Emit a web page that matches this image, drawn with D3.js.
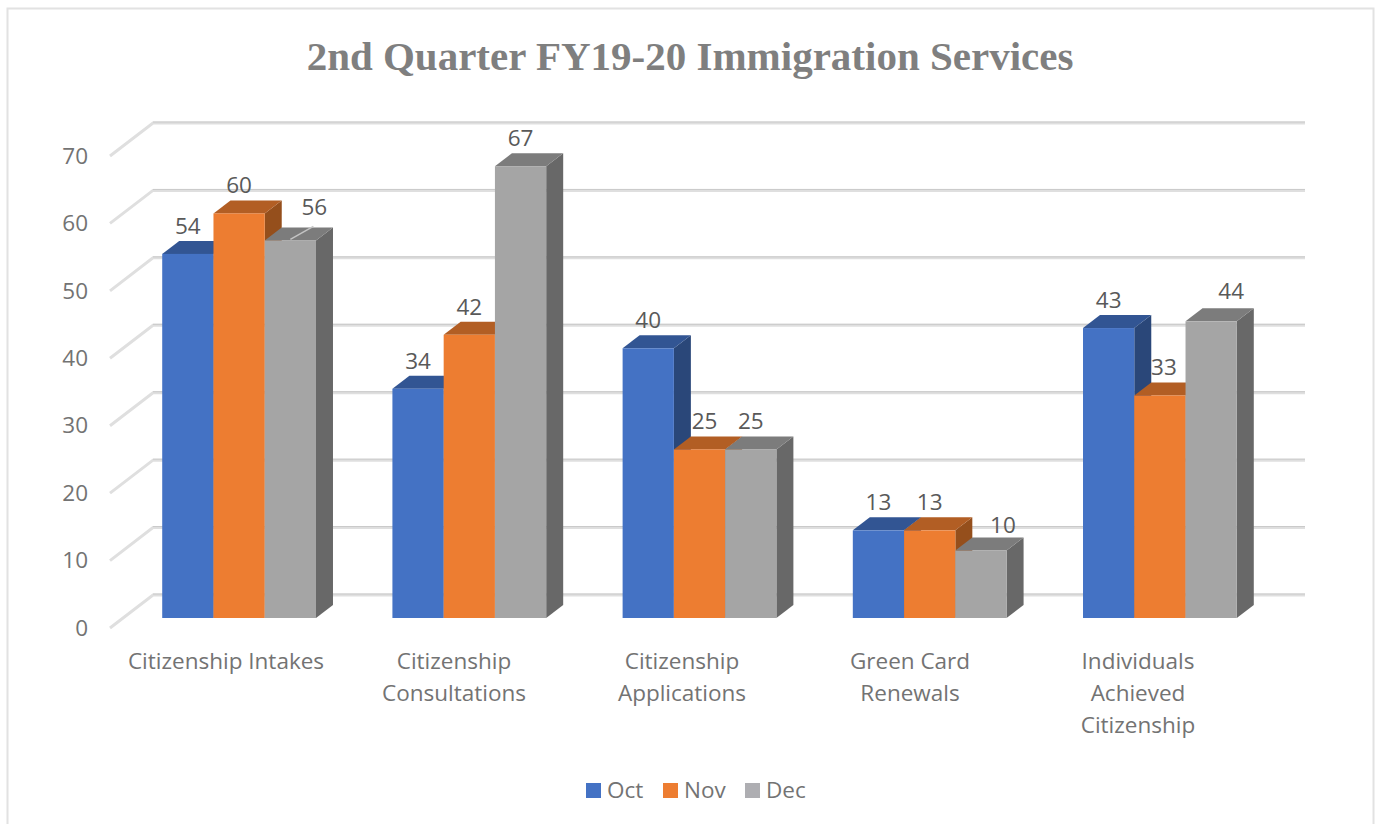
<!DOCTYPE html>
<html>
<head>
<meta charset="utf-8">
<title>2nd Quarter FY19-20 Immigration Services</title>
<script src="https://cdn.jsdelivr.net/npm/d3@7"></script>
<style>
	html, body { margin: 0; padding: 0; background: #fff; overflow: hidden; }
	svg { display: block; }
	.sans { font-family: "Open Sans", sans-serif; }
	.axis text { font-family: "Open Sans", sans-serif; font-size: 22.5px; fill: #737373; }
</style>
</head>
<body>
<svg id="chart" width="1376" height="824"></svg>
<script>
var chartTitle = "2nd Quarter FY19-20 Immigration Services";
var categories = [
	["Citizenship Intakes"],
	["Citizenship", "Consultations"],
	["Citizenship", "Applications"],
	["Green Card", "Renewals"],
	["Individuals", "Achieved", "Citizenship"]
];
var seriesNames = ["Oct", "Nov", "Dec"];
var octValues = [54, 34, 40, 13, 43];
var novValues = [60, 42, 25, 13, 33];
var decValues = [56, 67, 25, 10, 44];
var yTicks = [0, 10, 20, 30, 40, 50, 60, 70];

var colors = {
	Oct: { front: "#4472c4", top: "#325593", side: "#2a4779" },
	Nov: { front: "#ed7d31", top: "#b25e24", side: "#954f1c" },
	Dec: { front: "#a5a5a5", top: "#7c7c7c", side: "#686868" }
};

// data labels Excel pushed off the bar, [dx, dy] by series + category
var labelShift = {
	"Nov-2": [5, 0], "Dec-0": [24, -5], "Dec-3": [22, 2], "Nov-4": [4, 0], "Dec-4": [20, -2]
};

var svg = d3.select("#chart");
var rows = [octValues, novValues, decValues];
var catIds = categories.map(function (d, i) { return i; });

// frame, runs off the bottom of the picture
svg.append("rect")
	.attr("x", 7.5).attr("y", 8.5).attr("width", 1366).attr("height", 830)
	.attr("fill", "#fff").attr("stroke", "#e2e2e2").attr("stroke-width", 2);

svg.append("text")
	.attr("x", 690).attr("y", 70)
	.attr("text-anchor", "middle")
	.attr("font-family", "'Liberation Serif', serif")
	.attr("font-weight", "bold")
	.attr("font-size", 41)
	.attr("fill", "#7f7f7f")
	.text(chartTitle);

// bar front plane, floor goes 13,10 in front of it and 30,23 behind it
var yBar = d3.scaleLinear().domain([0, 70]).range([618, 146]);
var x0 = d3.scaleBand().domain(catIds).range([124, 1275]).paddingInner(0.332).paddingOuter(0.166);
var x1 = d3.scaleBand().domain(seriesNames).range([0, x0.bandwidth()]);
var xLabel = d3.scaleBand().domain(catIds).range([112, 1252]);
var depthX = 17, depthY = 13;

// walls
var grid = svg.append("g").selectAll("g").data(yTicks).enter().append("g")
	.attr("fill", "none");
grid.append("polyline")
	.attr("points", function (d) {
		var y = yBar(d);
		return [[110, y + 10], [153, y - 23], [1305, y - 23]].join(" ");
	})
	.attr("stroke", "#dfdfdf").attr("stroke-width", 3);
grid.append("polyline")
	.attr("points", function (d) {
		var y = yBar(d);
		return [[153, y - 24], [1305, y - 24]].join(" ");
	})
	.attr("stroke", "#c9c9c9").attr("stroke-width", 1);

// bars
var bars = [];
catIds.forEach(function (c) {
	seriesNames.forEach(function (s, i) {
		bars.push({ cat: c, series: s, value: rows[i][c] });
	});
});

var bar = svg.append("g").selectAll("g").data(bars).enter().append("g");

bar.append("polygon")
	.attr("points", function (d) {
		var l = x0(d.cat) + x1(d.series), r = l + x1.bandwidth(), t = yBar(d.value), b = yBar(0);
		return [[r, t], [r + depthX, t - depthY], [r + depthX, b - depthY], [r, b]].join(" ");
	})
	.attr("fill", function (d) { return colors[d.series].side; });

bar.append("polygon")
	.attr("points", function (d) {
		var l = x0(d.cat) + x1(d.series), r = l + x1.bandwidth(), t = yBar(d.value);
		return [[l, t], [r, t], [r + depthX, t - depthY], [l + depthX, t - depthY]].join(" ");
	})
	.attr("fill", function (d) { return colors[d.series].top; });

bar.append("rect")
	.attr("x", function (d) { return x0(d.cat) + x1(d.series); })
	.attr("y", function (d) { return yBar(d.value); })
	.attr("width", x1.bandwidth())
	.attr("height", function (d) { return yBar(0) - yBar(d.value); })
	.attr("fill", function (d) { return colors[d.series].front; });

// leader line of the 56 label
svg.append("line")
	.datum(bars[2])
	.attr("x1", function (d) { return x0(d.cat) + x1(d.series) + x1.bandwidth() / 2; })
	.attr("y1", function (d) { return yBar(d.value) - 1; })
	.attr("x2", function (d) { return x0(d.cat) + x1(d.series) + x1.bandwidth() / 2 + 23; })
	.attr("y2", function (d) { return yBar(d.value) - 14; })
	.attr("stroke", "#c4c4c4").attr("stroke-width", 1.5);

// data labels
svg.append("g").selectAll("text").data(bars).enter().append("text")
	.attr("class", "sans")
	.attr("font-size", 22.5)
	.attr("fill", "#595959")
	.attr("text-anchor", "middle")
	.attr("x", function (d) {
		var s = labelShift[d.series + "-" + d.cat] || [0, 0];
		return x0(d.cat) + x1(d.series) + x1.bandwidth() / 2 + s[0];
	})
	.attr("y", function (d) {
		var s = labelShift[d.series + "-" + d.cat] || [0, 0];
		return yBar(d.value) - 20 + s[1];
	})
	.text(function (d) { return d.value; });

// y axis sits on the front edge of the side wall
var yAxis = svg.append("g")
	.attr("class", "axis")
	.attr("transform", "translate(88,10)")
	.call(d3.axisLeft(yBar).tickValues(yTicks).tickSize(0).tickPadding(0));
yAxis.select(".domain").remove();

// category axis, wrapped by hand like the original
var xAxis = svg.append("g")
	.attr("class", "axis")
	.attr("transform", "translate(0,640)")
	.call(d3.axisBottom(xLabel).tickSize(0).tickFormat(""));
xAxis.select(".domain").remove();
xAxis.selectAll(".tick text").each(function (c) {
	var t = d3.select(this).attr("y", 0).attr("dy", null);
	categories[c].forEach(function (line, i) {
		t.append("tspan").attr("x", 0).attr("y", 29 + i * 32).text(line);
	});
});

// legend
var legendX = d3.scaleOrdinal().domain(seriesNames).range([586, 663, 745]);
var legend = svg.append("g").selectAll("g").data(seriesNames).enter().append("g")
	.attr("transform", function (d) { return "translate(" + legendX(d) + ",783)"; });
legend.append("rect")
	.attr("width", 15).attr("height", 15)
	.attr("fill", function (d) { return d === "Dec" ? "#aeaeb2" : colors[d].front; });
legend.append("text")
	.attr("class", "sans")
	.attr("x", 21).attr("y", 15)
	.attr("font-size", 22.5)
	.attr("fill", "#737373")
	.text(function (d) { return d; });
</script>
</body>
</html>
